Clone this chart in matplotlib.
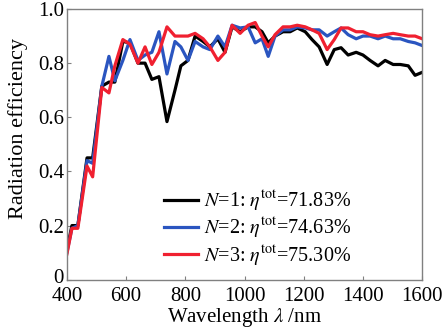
import matplotlib
matplotlib.use("Agg")
from matplotlib import pyplot as plt
from matplotlib.transforms import offset_copy

# wavelength grid (nm)
wavelength = [400, 417, 437, 468, 487, 518, 542, 562, 589, 613,
              640, 664, 687, 711, 738, 765, 785, 809, 833, 860,
              883, 910, 934, 958, 985, 1012, 1036, 1059, 1080, 1103,
              1130, 1154, 1178, 1205, 1228, 1252, 1279, 1303, 1326, 1350,
              1377, 1400, 1424, 1451, 1475, 1502, 1526, 1553, 1576, 1600]

eff_n1 = [0.11, 0.20, 0.20, 0.45, 0.45, 0.715, 0.73, 0.73, 0.88, 0.875,
          0.80, 0.80, 0.74, 0.75, 0.584, 0.70, 0.79, 0.81, 0.90, 0.88,
          0.86, 0.89, 0.84, 0.934, 0.916, 0.934, 0.934, 0.916, 0.875, 0.90,
          0.916, 0.916, 0.93, 0.916, 0.887, 0.86, 0.795, 0.85, 0.857, 0.83,
          0.84, 0.83, 0.81, 0.79, 0.81, 0.795, 0.795, 0.79, 0.755, 0.766]

eff_n2 = [0.10, 0.19, 0.20, 0.44, 0.43, 0.715, 0.825, 0.735, 0.81, 0.887,
          0.81, 0.83, 0.84, 0.916, 0.76, 0.88, 0.86, 0.81, 0.88, 0.86,
          0.85, 0.90, 0.86, 0.94, 0.93, 0.934, 0.875, 0.89, 0.825, 0.90,
          0.923, 0.923, 0.934, 0.93, 0.923, 0.923, 0.90, 0.916, 0.93, 0.905,
          0.89, 0.90, 0.90, 0.89, 0.90, 0.89, 0.89, 0.88, 0.875, 0.865]

eff_n3 = [0.095, 0.19, 0.19, 0.42, 0.38, 0.71, 0.69, 0.79, 0.887, 0.87,
          0.80, 0.86, 0.795, 0.84, 0.934, 0.90, 0.90, 0.90, 0.91, 0.89,
          0.86, 0.81, 0.84, 0.94, 0.91, 0.94, 0.95, 0.90, 0.86, 0.905,
          0.934, 0.934, 0.94, 0.934, 0.923, 0.91, 0.85, 0.887, 0.93, 0.93,
          0.916, 0.916, 0.905, 0.90, 0.905, 0.91, 0.905, 0.90, 0.90, 0.89]

labels = [r"$N$=1: $\eta^{\rm tot}$=71.83%",
          r"$N$=2: $\eta^{\rm tot}$=74.63%",
          r"$N$=3: $\eta^{\rm tot}$=75.30%"]
colors = ["#000000", "#2a55c0", "#f02030"]

plt.rcParams["font.family"] = ["Liberation Serif", "DejaVu Serif"]
plt.rcParams["mathtext.fontset"] = "stix"

fig = plt.figure(figsize=(4.43, 3.33), dpi=100)
ax = fig.add_axes([0.151, 0.16, 0.802, 0.813])

for y, lab, c in zip([eff_n1, eff_n2, eff_n3], labels, colors):
    ax.plot(wavelength, y, color=c, lw=2.3, label=lab)

ax.set_xlim(400, 1600)
ax.set_ylim(0, 1.0)
ax.set_xticks([400, 600, 800, 1000, 1200, 1400, 1600])
ax.set_yticks([0, 0.2, 0.4, 0.6, 0.8, 1.0])
ax.set_yticklabels(["0", "0.2", "0.4", "0.6", "0.8", "1.0"])
ax.tick_params(direction="in", length=3, labelsize=15, color="gray")
ax.tick_params(axis="x", pad=5)
ax.tick_params(axis="y", pad=2)
for s in ax.spines.values():
    s.set_color("gray")
    s.set_linewidth(1.0)

# lift the "0" label a little so it clears "400"
zero = ax.get_yticklabels()[0]
zero.set_transform(offset_copy(zero.get_transform(), fig=fig, y=2.5, units="points"))

ax.set_xlabel(r"Wavelength $\lambda$ /nm", fontsize=15, labelpad=0)
ax.set_ylabel("Radiation efficiency", fontsize=16)
ax.yaxis.set_label_coords(-0.11, 0.56)

ax.legend(loc="lower left", frameon=False, fontsize=14.5, handlelength=1.7,
          handletextpad=0.3, labelspacing=0.12, borderpad=0.2,
          borderaxespad=0.0, bbox_to_anchor=(0.262, 0.03))

fig.savefig("out.png", dpi=100)
